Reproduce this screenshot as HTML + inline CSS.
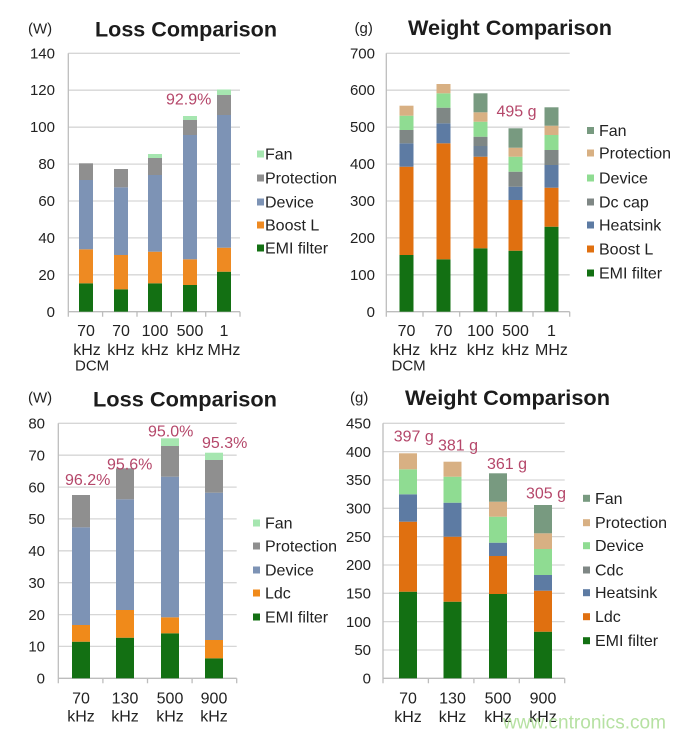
<!DOCTYPE html>
<html><head><meta charset="utf-8"><style>
html,body{margin:0;padding:0;background:#fff;}
svg{display:block;font-family:"Liberation Sans",Arial,sans-serif;}
.t{font-size:15px;fill:#222;}
.x{font-size:16px;fill:#222;text-anchor:middle;}
.lg{font-size:16px;fill:#222;}
.ti{font-size:21px;font-weight:bold;fill:#1c1c1c;}
.pc{font-size:16px;fill:#b5476a;}
.g{stroke:#d6d6d6;stroke-width:1.3;}
.ax{stroke:#bdbdbd;stroke-width:1.3;fill:none;}
</style></head><body>
<svg width="686" height="738" viewBox="0 0 686 738" xmlns="http://www.w3.org/2000/svg">
<rect width="686" height="738" fill="#fff"/>

<!-- ===== Chart 1: Loss Comparison (top-left) ===== -->
<g>
<line class="g" x1="68.3" x2="240" y1="274.8" y2="274.8"/>
<line class="g" x1="68.3" x2="240" y1="237.9" y2="237.9"/>
<line class="g" x1="68.3" x2="240" y1="201.0" y2="201.0"/>
<line class="g" x1="68.3" x2="240" y1="164.1" y2="164.1"/>
<line class="g" x1="68.3" x2="240" y1="127.2" y2="127.2"/>
<line class="g" x1="68.3" x2="240" y1="90.2" y2="90.2"/>
<line class="g" x1="68.3" x2="240" y1="53.3" y2="53.3"/>
<path class="ax" d="M68.3 53.3 V311.7 H240 M68.3 311.7 v5 M102.6 311.7 v5 M137 311.7 v5 M171.3 311.7 v5 M205.7 311.7 v5 M240 311.7 v5"/>
<g class="t" text-anchor="end">
<text x="55" y="317">0</text><text x="55" y="280">20</text><text x="55" y="243">40</text><text x="55" y="206">60</text>
<text x="55" y="169">80</text><text x="55" y="132">100</text><text x="55" y="95">120</text><text x="55" y="58.5">140</text>
</g>
<text x="28" y="33.5" class="t">(W)</text>
<text x="95" y="36.5" class="ti" textLength="182" lengthAdjust="spacingAndGlyphs">Loss Comparison</text>
<!-- bars -->
<g>
<rect x="79" y="283.3" width="14" height="28.4" fill="#137013"/><rect x="79" y="249.3" width="14" height="34" fill="#ee8a22"/><rect x="79" y="180" width="14" height="69.3" fill="#7d93b5"/><rect x="79" y="163.3" width="14" height="16.7" fill="#8f8f8f"/>
<rect x="114" y="289.3" width="14" height="22.4" fill="#137013"/><rect x="114" y="255" width="14" height="34.3" fill="#ee8a22"/><rect x="114" y="187.3" width="14" height="67.7" fill="#7d93b5"/><rect x="114" y="169" width="14" height="18.3" fill="#8f8f8f"/>
<rect x="148" y="283.3" width="14" height="28.4" fill="#137013"/><rect x="148" y="251.7" width="14" height="31.6" fill="#ee8a22"/><rect x="148" y="175" width="14" height="76.7" fill="#7d93b5"/><rect x="148" y="158" width="14" height="17" fill="#8f8f8f"/><rect x="148" y="154" width="14" height="4" fill="#a6e6b0"/>
<rect x="183" y="285" width="14" height="26.7" fill="#137013"/><rect x="183" y="259.3" width="14" height="25.7" fill="#ee8a22"/><rect x="183" y="135" width="14" height="124.3" fill="#7d93b5"/><rect x="183" y="120" width="14" height="15" fill="#8f8f8f"/><rect x="183" y="116" width="14" height="4" fill="#a6e6b0"/>
<rect x="217" y="271.7" width="14" height="40" fill="#137013"/><rect x="217" y="247.7" width="14" height="24" fill="#ee8a22"/><rect x="217" y="115" width="14" height="132.7" fill="#7d93b5"/><rect x="217" y="95" width="14" height="20" fill="#8f8f8f"/><rect x="217" y="89.5" width="14" height="5.5" fill="#a6e6b0"/>
</g>
<text x="166" y="104.3" class="pc">92.9%</text>
<!-- x labels -->
<text x="86" y="336" class="x">70</text><text x="121" y="336" class="x">70</text><text x="155" y="336" class="x">100</text><text x="190" y="336" class="x">500</text><text x="224" y="336" class="x">1</text>
<text x="87" y="355" class="x">kHz</text><text x="121" y="355" class="x">kHz</text><text x="155" y="355" class="x">kHz</text><text x="190" y="355" class="x">kHz</text><text x="224" y="355" class="x">MHz</text>
<text x="75" y="370.5" class="t">DCM</text>
<!-- legend -->
<rect x="257" y="150.5" width="7" height="7" fill="#a6e6b0"/><text x="265" y="159.5" class="lg">Fan</text>
<rect x="257" y="174.5" width="7" height="7" fill="#8f8f8f"/><text x="265" y="183.5" class="lg">Protection</text>
<rect x="257" y="198.5" width="7" height="7" fill="#7d93b5"/><text x="265" y="207.5" class="lg">Device</text>
<rect x="257" y="221.5" width="7" height="7" fill="#ee8a22"/><text x="265" y="230.5" class="lg">Boost L</text>
<rect x="257" y="244.5" width="7" height="7" fill="#137013"/><text x="265" y="253.5" class="lg">EMI filter</text>
</g>

<!-- ===== Chart 2: Weight Comparison (top-right) ===== -->
<g>
<line class="g" x1="386.3" x2="569.7" y1="274.8" y2="274.8"/>
<line class="g" x1="386.3" x2="569.7" y1="237.9" y2="237.9"/>
<line class="g" x1="386.3" x2="569.7" y1="201.0" y2="201.0"/>
<line class="g" x1="386.3" x2="569.7" y1="164.1" y2="164.1"/>
<line class="g" x1="386.3" x2="569.7" y1="127.2" y2="127.2"/>
<line class="g" x1="386.3" x2="569.7" y1="90.2" y2="90.2"/>
<line class="g" x1="386.3" x2="569.7" y1="53.3" y2="53.3"/>
<path class="ax" d="M386.3 53.3 V311.7 H569.7 M386.3 311.7 v5 M423 311.7 v5 M459.7 311.7 v5 M496.3 311.7 v5 M533 311.7 v5 M569.7 311.7 v5"/>
<g class="t" text-anchor="end">
<text x="375" y="317">0</text><text x="375" y="280">100</text><text x="375" y="243">200</text><text x="375" y="206">300</text>
<text x="375" y="169">400</text><text x="375" y="132">500</text><text x="375" y="95">600</text><text x="375" y="58.5">700</text>
</g>
<text x="354.5" y="33" class="t">(g)</text>
<text x="408" y="35" class="ti" textLength="204" lengthAdjust="spacingAndGlyphs">Weight Comparison</text>
<g>
<rect x="399.5" y="255" width="14" height="56.7" fill="#137013"/><rect x="399.5" y="166.7" width="14" height="88.3" fill="#e07010"/><rect x="399.5" y="143.3" width="14" height="23.4" fill="#5d7ba3"/><rect x="399.5" y="130" width="14" height="13.3" fill="#7f8785"/><rect x="399.5" y="115.7" width="14" height="14.3" fill="#8fdc92"/><rect x="399.5" y="105.7" width="14" height="10" fill="#d8b083"/>
<rect x="436.5" y="259.3" width="14" height="52.4" fill="#137013"/><rect x="436.5" y="143.3" width="14" height="116" fill="#e07010"/><rect x="436.5" y="123.3" width="14" height="20" fill="#5d7ba3"/><rect x="436.5" y="107.7" width="14" height="15.6" fill="#7f8785"/><rect x="436.5" y="93.3" width="14" height="14.4" fill="#8fdc92"/><rect x="436.5" y="84" width="14" height="9.3" fill="#d8b083"/>
<rect x="473.5" y="248.3" width="14" height="63.4" fill="#137013"/><rect x="473.5" y="156.7" width="14" height="91.6" fill="#e07010"/><rect x="473.5" y="146" width="14" height="10.7" fill="#6d8196"/><rect x="473.5" y="136.7" width="14" height="9.3" fill="#7f8785"/><rect x="473.5" y="121.7" width="14" height="15" fill="#8fdc92"/><rect x="473.5" y="112.3" width="14" height="9.4" fill="#d8b083"/><rect x="473.5" y="93.3" width="14" height="19" fill="#789a80"/>
<rect x="508.5" y="250.7" width="14" height="61" fill="#137013"/><rect x="508.5" y="200" width="14" height="50.7" fill="#e07010"/><rect x="508.5" y="186.7" width="14" height="13.3" fill="#5d7ba3"/><rect x="508.5" y="171.7" width="14" height="15" fill="#7f8785"/><rect x="508.5" y="156.7" width="14" height="15" fill="#8fdc92"/><rect x="508.5" y="147.7" width="14" height="9" fill="#d8b083"/><rect x="508.5" y="128.3" width="14" height="19.4" fill="#789a80"/>
<rect x="544.5" y="226.7" width="14" height="85" fill="#137013"/><rect x="544.5" y="187.7" width="14" height="39" fill="#e07010"/><rect x="544.5" y="165" width="14" height="22.7" fill="#5d7ba3"/><rect x="544.5" y="150" width="14" height="15" fill="#7f8785"/><rect x="544.5" y="135" width="14" height="15" fill="#8fdc92"/><rect x="544.5" y="125.7" width="14" height="9.3" fill="#d8b083"/><rect x="544.5" y="107.3" width="14" height="18.4" fill="#789a80"/>
</g>
<text x="496.5" y="116.7" class="pc">495 g</text>
<text x="406.5" y="336" class="x">70</text><text x="443.5" y="336" class="x">70</text><text x="480.5" y="336" class="x">100</text><text x="515.5" y="336" class="x">500</text><text x="551.5" y="336" class="x">1</text>
<text x="406.5" y="355" class="x">kHz</text><text x="443.5" y="355" class="x">kHz</text><text x="480.5" y="355" class="x">kHz</text><text x="515.5" y="355" class="x">kHz</text><text x="551.5" y="355" class="x">MHz</text>
<text x="391.5" y="370.5" class="t">DCM</text>
<rect x="587" y="127" width="7" height="7" fill="#789a80"/><text x="599" y="136" class="lg">Fan</text>
<rect x="587" y="149.5" width="7" height="7" fill="#d8b083"/><text x="599" y="158.5" class="lg">Protection</text>
<rect x="587" y="174.5" width="7" height="7" fill="#8fdc92"/><text x="599" y="183.5" class="lg">Device</text>
<rect x="587" y="198.5" width="7" height="7" fill="#7f8785"/><text x="599" y="207.5" class="lg">Dc cap</text>
<rect x="587" y="221.5" width="7" height="7" fill="#5d7ba3"/><text x="599" y="230.5" class="lg">Heatsink</text>
<rect x="587" y="245.5" width="7" height="7" fill="#e07010"/><text x="599" y="254.5" class="lg">Boost L</text>
<rect x="587" y="269.5" width="7" height="7" fill="#137013"/><text x="599" y="278.5" class="lg">EMI filter</text>
</g>

<!-- ===== Chart 3: Loss Comparison (bottom-left) ===== -->
<g>
<line class="g" x1="58.3" x2="236.7" y1="646.4" y2="646.4"/>
<line class="g" x1="58.3" x2="236.7" y1="614.6" y2="614.6"/>
<line class="g" x1="58.3" x2="236.7" y1="582.7" y2="582.7"/>
<line class="g" x1="58.3" x2="236.7" y1="550.8" y2="550.8"/>
<line class="g" x1="58.3" x2="236.7" y1="518.9" y2="518.9"/>
<line class="g" x1="58.3" x2="236.7" y1="487.1" y2="487.1"/>
<line class="g" x1="58.3" x2="236.7" y1="455.2" y2="455.2"/>
<line class="g" x1="58.3" x2="236.7" y1="423.3" y2="423.3"/>
<path class="ax" d="M58.3 423.3 V678.3 H236.7 M58.3 678.3 v5 M102.9 678.3 v5 M147.5 678.3 v5 M192.1 678.3 v5 M236.7 678.3 v5"/>
<g class="t" text-anchor="end">
<text x="45" y="683.5">0</text><text x="45" y="651.6">10</text><text x="45" y="619.8">20</text><text x="45" y="587.9">30</text>
<text x="45" y="556">40</text><text x="45" y="524.1">50</text><text x="45" y="492.3">60</text><text x="45" y="460.4">70</text><text x="45" y="428.5">80</text>
</g>
<text x="28" y="402.5" class="t">(W)</text>
<text x="93" y="406.5" class="ti" textLength="184" lengthAdjust="spacingAndGlyphs">Loss Comparison</text>
<g>
<rect x="72" y="641.7" width="18" height="36.6" fill="#137013"/><rect x="72" y="625" width="18" height="16.7" fill="#f08a1a"/><rect x="72" y="527.3" width="18" height="97.7" fill="#7d93b5"/><rect x="72" y="495" width="18" height="32.3" fill="#8f8f8f"/>
<rect x="116" y="637.7" width="18" height="40.6" fill="#137013"/><rect x="116" y="610" width="18" height="27.7" fill="#f08a1a"/><rect x="116" y="499.3" width="18" height="110.7" fill="#7d93b5"/><rect x="116" y="468.3" width="18" height="31" fill="#8f8f8f"/>
<rect x="161" y="633.3" width="18" height="45" fill="#137013"/><rect x="161" y="617.3" width="18" height="16" fill="#f08a1a"/><rect x="161" y="476.7" width="18" height="140.6" fill="#7d93b5"/><rect x="161" y="446" width="18" height="30.7" fill="#8f8f8f"/><rect x="161" y="438.3" width="18" height="7.7" fill="#a6e6b0"/>
<rect x="205" y="658.3" width="18" height="20" fill="#137013"/><rect x="205" y="640" width="18" height="18.3" fill="#f08a1a"/><rect x="205" y="492.7" width="18" height="147.3" fill="#7d93b5"/><rect x="205" y="460" width="18" height="32.7" fill="#8f8f8f"/><rect x="205" y="452.7" width="18" height="7.3" fill="#a6e6b0"/>
</g>
<text x="65" y="485" class="pc">96.2%</text>
<text x="107" y="469.5" class="pc">95.6%</text>
<text x="148" y="436.5" class="pc">95.0%</text>
<text x="202" y="448" class="pc">95.3%</text>
<text x="81" y="703.3" class="x">70</text><text x="125" y="703.3" class="x">130</text><text x="170" y="703.3" class="x">500</text><text x="214" y="703.3" class="x">900</text>
<text x="81" y="721.7" class="x">kHz</text><text x="125" y="721.7" class="x">kHz</text><text x="170" y="721.7" class="x">kHz</text><text x="214" y="721.7" class="x">kHz</text>
<rect x="253" y="519.5" width="7" height="7" fill="#a6e6b0"/><text x="265" y="528.5" class="lg">Fan</text>
<rect x="253" y="542.5" width="7" height="7" fill="#8f8f8f"/><text x="265" y="551.5" class="lg">Protection</text>
<rect x="253" y="566.5" width="7" height="7" fill="#7d93b5"/><text x="265" y="575.5" class="lg">Device</text>
<rect x="253" y="589.5" width="7" height="7" fill="#f08a1a"/><text x="265" y="598.5" class="lg">Ldc</text>
<rect x="253" y="613.5" width="7" height="7" fill="#137013"/><text x="265" y="622.5" class="lg">EMI filter</text>
</g>

<!-- ===== Chart 4: Weight Comparison (bottom-right) ===== -->
<g>
<line class="g" x1="383" x2="564.7" y1="650.0" y2="650.0"/>
<line class="g" x1="383" x2="564.7" y1="621.6" y2="621.6"/>
<line class="g" x1="383" x2="564.7" y1="593.3" y2="593.3"/>
<line class="g" x1="383" x2="564.7" y1="565.0" y2="565.0"/>
<line class="g" x1="383" x2="564.7" y1="536.6" y2="536.6"/>
<line class="g" x1="383" x2="564.7" y1="508.3" y2="508.3"/>
<line class="g" x1="383" x2="564.7" y1="480.0" y2="480.0"/>
<line class="g" x1="383" x2="564.7" y1="451.6" y2="451.6"/>
<line class="g" x1="383" x2="564.7" y1="423.3" y2="423.3"/>
<path class="ax" d="M383 423.3 V678.3 H564.7 M383 678.3 v5 M428.4 678.3 v5 M473.9 678.3 v5 M519.3 678.3 v5 M564.7 678.3 v5"/>
<g class="t" text-anchor="end">
<text x="371" y="683.5">0</text><text x="371" y="655.2">50</text><text x="371" y="626.8">100</text><text x="371" y="598.5">150</text>
<text x="371" y="570.2">200</text><text x="371" y="541.8">250</text><text x="371" y="513.5">300</text><text x="371" y="485.2">350</text>
<text x="371" y="456.8">400</text><text x="371" y="428.5">450</text>
</g>
<text x="350" y="402.5" class="t">(g)</text>
<text x="405" y="405" class="ti" textLength="205" lengthAdjust="spacingAndGlyphs">Weight Comparison</text>
<g>
<rect x="399" y="591.7" width="18" height="86.6" fill="#137013"/><rect x="399" y="521.7" width="18" height="70" fill="#e07010"/><rect x="399" y="494.3" width="18" height="27.4" fill="#5d7ba3"/><rect x="399" y="469.3" width="18" height="25" fill="#8fdc92"/><rect x="399" y="453.3" width="18" height="16" fill="#d8b083"/>
<rect x="443.5" y="601.7" width="18" height="76.6" fill="#137013"/><rect x="443.5" y="536.7" width="18" height="65" fill="#e07010"/><rect x="443.5" y="502.7" width="18" height="34" fill="#5d7ba3"/><rect x="443.5" y="476.7" width="18" height="26" fill="#8fdc92"/><rect x="443.5" y="461.7" width="18" height="15" fill="#d8b083"/>
<rect x="489" y="594" width="18" height="84.3" fill="#137013"/><rect x="489" y="556" width="18" height="38" fill="#e07010"/><rect x="489" y="542.7" width="18" height="13.3" fill="#5d7ba3"/><rect x="489" y="516.7" width="18" height="26" fill="#8fdc92"/><rect x="489" y="501.7" width="18" height="15" fill="#d8b083"/><rect x="489" y="473.3" width="18" height="28.4" fill="#789a80"/>
<rect x="534" y="631.7" width="18" height="46.6" fill="#137013"/><rect x="534" y="590.7" width="18" height="41" fill="#e07010"/><rect x="534" y="575" width="18" height="15.7" fill="#5d7ba3"/><rect x="534" y="549" width="18" height="26" fill="#8fdc92"/><rect x="534" y="533.3" width="18" height="15.7" fill="#d8b083"/><rect x="534" y="505" width="18" height="28.3" fill="#789a80"/>
</g>
<text x="393.7" y="441.5" class="pc">397 g</text>
<text x="438" y="450.5" class="pc">381 g</text>
<text x="487" y="469" class="pc">361 g</text>
<text x="526" y="498.5" class="pc">305 g</text>
<text x="408" y="703.3" class="x">70</text><text x="452.5" y="703.3" class="x">130</text><text x="498" y="703.3" class="x">500</text><text x="543" y="703.3" class="x">900</text>
<text x="408" y="722" class="x">kHz</text><text x="452.5" y="722" class="x">kHz</text><text x="498" y="722" class="x">kHz</text><text x="543" y="722" class="x">kHz</text>
<rect x="583" y="494.8" width="7" height="7" fill="#789a80"/><text x="595" y="503.8" class="lg">Fan</text>
<rect x="583" y="519.2" width="7" height="7" fill="#d8b083"/><text x="595" y="528.2" class="lg">Protection</text>
<rect x="583" y="542.2" width="7" height="7" fill="#8fdc92"/><text x="595" y="551.2" class="lg">Device</text>
<rect x="583" y="566.5" width="7" height="7" fill="#7f8785"/><text x="595" y="575.5" class="lg">Cdc</text>
<rect x="583" y="589.2" width="7" height="7" fill="#5d7ba3"/><text x="595" y="598.2" class="lg">Heatsink</text>
<rect x="583" y="613.2" width="7" height="7" fill="#e07010"/><text x="595" y="622.2" class="lg">Ldc</text>
<rect x="583" y="637.2" width="7" height="7" fill="#137013"/><text x="595" y="646.2" class="lg">EMI filter</text>
</g>

<!-- watermark -->
<text x="503" y="728.5" font-size="19" fill="#a9dc92" fill-opacity="0.85" textLength="163" lengthAdjust="spacingAndGlyphs">www.cntronics.com</text>
</svg>
</body></html>
